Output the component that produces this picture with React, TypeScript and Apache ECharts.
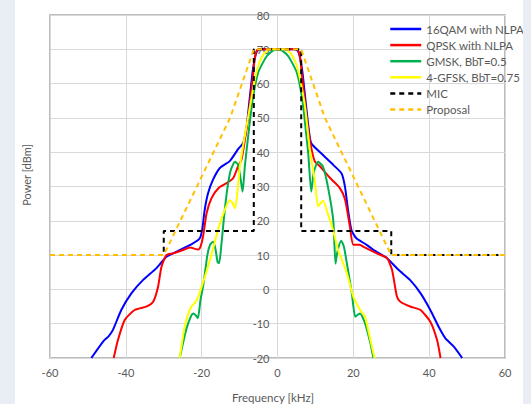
import React, { useEffect, useRef } from "react";
import * as echarts from "echarts";

const seriesNames = [
  "16QAM with NLPA",
  "QPSK with NLPA",
  "GMSK, BbT=0.5",
  "4-GFSK, BbT=0.75",
  "MIC",
  "Proposal",
];

const qam16: number[][] = [
  [-49.1, -20], [-46, -15.2], [-44.5, -13.6], [-43.4, -11.8], [-41.2, -6], [-38.5, -1.1],
  [-35.5, 2.7], [-31.9, 6.2], [-29.3, 9.5], [-26.6, 11], [-22.3, 13.4], [-20.5, 14.9],
  [-19.8, 17.8], [-19.2, 23.2], [-18.3, 28.1], [-17, 32], [-15.2, 35.4], [-12.6, 37.4],
  [-10.4, 40.9], [-9, 42.8], [-8.1, 47.9], [-7.3, 56], [-6.5, 64], [-5.6, 69], [-4.8, 70],
  [4.8, 70], [5.6, 69], [6.5, 64], [7.3, 56], [8.1, 48], [8.9, 42.6], [12, 39.2],
  [14.7, 36.3], [16.9, 33.8], [17.8, 29.9], [18.6, 23.2], [19.5, 17.3], [20.8, 14.9],
  [23.5, 13], [25.3, 11.5], [28.9, 9.1], [31.9, 5.7], [35, 2.7], [37.7, -1.1],
  [40.3, -6], [42.5, -10.9], [44.3, -14.3], [46.5, -16.7], [48.7, -20],
];

const qpsk: number[][] = [
  [-43.2, -20], [-42.1, -14.8], [-40.3, -8.9], [-37.7, -6], [-34.6, -5], [-32.8, -3.6],
  [-31.5, 0.8], [-30.6, 6.6], [-29.3, 10], [-27.5, 10.5], [-24.9, 11.5], [-23.1, 12.2],
  [-20.9, 11.6], [-20.3, 12.5], [-19.6, 15.6], [-18.7, 22.2], [-17.4, 26.6], [-15.6, 29.5],
  [-13.4, 31], [-11.7, 32.4], [-10.4, 35.9], [-9.5, 37.8], [-8.6, 43.6], [-7.7, 50.3],
  [-7.1, 56], [-6.5, 62], [-5.9, 68], [-5.1, 70],
  [5.1, 70], [5.9, 68], [6.5, 62], [7.1, 56], [7.7, 50], [8.6, 43], [9.8, 37.4],
  [11.2, 35.9], [12.5, 34.2], [14.2, 32.1], [16.4, 29.6], [17.8, 26.3], [19.1, 18.3],
  [20, 13], [21.7, 13], [22.7, 12.4], [26.2, 10.5], [28.9, 9.1], [30.2, 5.7],
  [31.5, -2.1], [32.4, -3.6], [35, -5], [37.7, -6], [40.3, -9.4], [42.1, -14.8], [43, -20],
];

const gmsk: number[][] = [
  [-25.8, -20], [-24.1, -11.8], [-22.8, -7.8], [-22.2, -7], [-21.6, -7.5], [-21, -8.4],
  [-20.3, -3], [-19.6, 1], [-18.5, 10], [-17.8, 13], [-17, 13.9], [-16.4, 12], [-15.8, 8],
  [-15.4, 7.6], [-14.8, 13], [-14.2, 20], [-13.4, 28], [-12.4, 34.5], [-11.2, 37.2],
  [-10.4, 36.4], [-9.7, 32], [-9.2, 28.5], [-8.6, 36], [-7.7, 45], [-6.6, 55],
  [-5.1, 63.2], [-2.9, 67.9], [-1.2, 69.6], [0, 70], [1.2, 69.6], [2.9, 67.9],
  [5.1, 63.2], [6.6, 55], [7.5, 46], [8.1, 39.7], [8.9, 28.5], [9.6, 34.3], [10.7, 37.2],
  [12, 35.8], [13.3, 29.9], [14.7, 20.2], [15.3, 7.5], [15.8, 11], [16.8, 14.2],
  [17.5, 12.5], [18.3, 7.6], [19.6, -1.1], [20.5, -8], [21.3, -7.3], [21.8, -7],
  [23.1, -9.9], [24.5, -15.7], [25.3, -20],
];

const gfsk4: number[][] = [
  [-25.8, -20], [-24.5, -11], [-23.5, -7], [-22.7, -5], [-21.7, -3.8], [-20.9, -2.1],
  [-19.5, 2.5], [-17.8, 8.6], [-15.4, 18.5], [-13.8, 23.5], [-12.6, 26], [-11.9, 25.3],
  [-11.2, 23.6], [-10.6, 28], [-9.9, 36], [-8.6, 45], [-7.3, 53], [-6.2, 60], [-5, 65.5],
  [-3.5, 68.8], [-2, 70], [2, 70], [3.5, 68.8], [5, 65.5], [6.2, 60], [7.3, 53],
  [8.5, 41], [9.8, 32], [10.7, 24.2], [11.3, 25], [12, 25.9], [13.3, 22], [14.7, 17.1],
  [16, 11.3], [16.5, 10], [18.3, 4.7], [20, -2.1], [21.8, -6], [23.1, -8], [24.5, -14.8],
  [25.6, -20],
];

const mic: number[][] = [
  [-60, 10], [-30, 10], [-30, 17], [-6.25, 17], [-6.25, 70], [6.25, 70], [6.25, 17],
  [30, 17], [30, 10], [60, 10],
];

const proposal: number[][] = [
  [-60, 10], [-30, 10], [-12.5, 50], [-6.25, 70], [6.25, 70], [12.5, 50], [30, 10], [60, 10],
];

const xTitle = "Frequency [kHz]";
const yTitle = "Power [dBm]";

const FONT = "Lato, 'Open Sans', sans-serif";
const TXT = "#595959";

export default function App() {
  const ref = useRef<HTMLDivElement>(null);
  useEffect(() => {
    if (!ref.current) return;
    const chart = echarts.init(ref.current, undefined, { renderer: "svg" });
    const solid = (name: string, data: number[][], color: string) => ({
      name,
      type: "line",
      data,
      symbol: "none",
      smooth: 0.2,
      lineStyle: { color, width: 2 },
      itemStyle: { color },
    });
    const dashed = (name: string, data: number[][], color: string) => ({
      name,
      type: "line",
      data,
      symbol: "none",
      lineStyle: { color, width: 2, type: [5, 4] },
      itemStyle: { color },
    });
    const gridLeft = 35;
    const gridRight = 18;
    const plotW = 508 - gridLeft - gridRight;
    chart.setOption({
      animation: false,
      backgroundColor: "#ffffff",
      textStyle: { fontFamily: FONT },
      grid: {
        left: gridLeft,
        right: gridRight,
        top: 15,
        bottom: 46,
        show: true,
        borderColor: "#a6a6a6",
        borderWidth: 1.5,
      },
      legend: {
        orient: "vertical",
        left: 369,
        top: 18,
        itemWidth: 31,
        itemHeight: 14,
        itemGap: 4.1,
        itemStyle: { opacity: 0 },
        lineStyle: { width: 2.5 },
        textStyle: { color: TXT, fontSize: 11.5, fontFamily: FONT },
        data: seriesNames,
      },
      xAxis: {
        type: "value",
        min: -60,
        max: 60,
        interval: 20,
        axisLine: { onZero: false, show: false },
        axisTick: { show: false },
        axisLabel: { color: TXT, fontSize: 11, margin: 9, fontFamily: FONT },
        splitLine: { lineStyle: { color: "#d9d9d9", width: 1 } },
      },
      yAxis: {
        type: "value",
        min: -20,
        max: 80,
        interval: 10,
        position: "left",
        offset: -plotW / 2,
        axisLine: { onZero: false, show: true, lineStyle: { color: "#d9d9d9", width: 1 } },
        axisTick: { show: false },
        axisLabel: { color: TXT, fontSize: 11, margin: 8, fontFamily: FONT },
        splitLine: { lineStyle: { color: "#d9d9d9", width: 1 } },
      },
      graphic: [
        {
          type: "text",
          x: 11.7,
          y: 175,
          rotation: Math.PI / 2,
          style: {
            text: yTitle,
            fill: TXT,
            font: `11px ${FONT}`,
            align: "center",
            verticalAlign: "middle",
          },
        },
        {
          type: "text",
          x: 258,
          y: 397,
          style: {
            text: xTitle,
            fill: TXT,
            font: `11.5px ${FONT}`,
            align: "center",
            verticalAlign: "middle",
          },
        },
      ],
      series: [
        solid(seriesNames[0], qam16, "#0000ff"),
        solid(seriesNames[1], qpsk, "#ff0000"),
        solid(seriesNames[2], gmsk, "#00b050"),
        solid(seriesNames[3], gfsk4, "#ffff00"),
        dashed(seriesNames[4], mic, "#000000"),
        dashed(seriesNames[5], proposal, "#ffc000"),
      ],
    });
    return () => chart.dispose();
  }, []);
  return (
    <div style={{ position: "fixed", left: 0, top: 0, width: 531, height: 404, background: "#e9eef5" }}>
      <div ref={ref} style={{ position: "absolute", left: 15, top: 0, width: 508, height: 404, background: "#fff" }} />
    </div>
  );
}
